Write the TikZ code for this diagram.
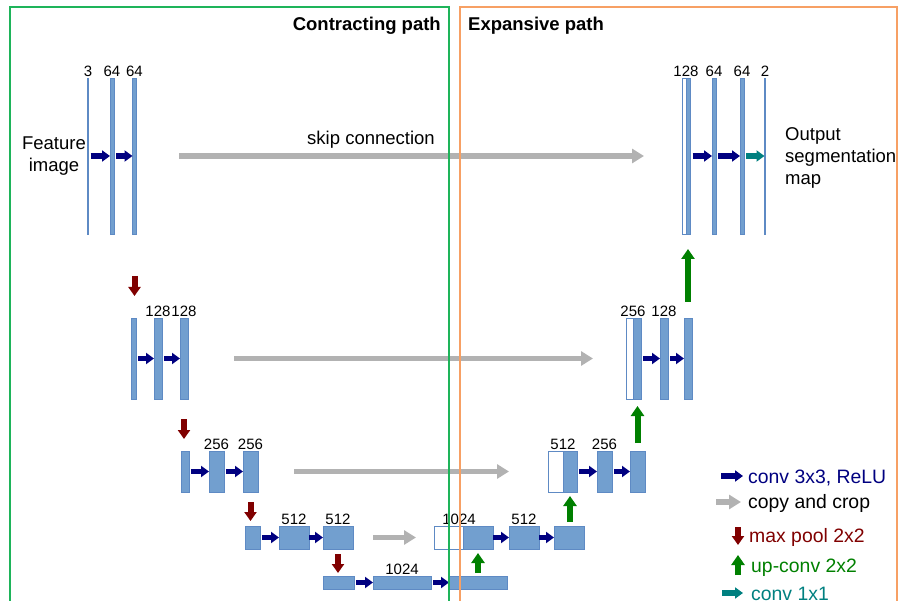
\documentclass[tikz,border=0pt]{standalone}
\usepackage{fontspec}
\setmainfont{Liberation Sans}
\usetikzlibrary{arrows.meta}
\definecolor{barblue}{RGB}{114,159,207}
\definecolor{barline}{RGB}{94,138,196}
\definecolor{convblue}{RGB}{0,0,128}
\definecolor{skipgray}{RGB}{178,178,178}
\definecolor{poolred}{RGB}{128,0,0}
\definecolor{upgreen}{RGB}{0,128,0}
\definecolor{oneteal}{RGB}{0,128,128}
\definecolor{pathgreen}{RGB}{30,180,90}
\definecolor{pathorange}{RGB}{247,160,100}
\begin{document}
\begin{tikzpicture}[x=1pt,y=-1pt,
    bar/.style 2 args={draw=barline,fill=barblue,line width=0.6pt,inner sep=0pt,outer sep=0pt,minimum width=#1pt,minimum height=#2pt},
    wbar/.style 2 args={bar={#1}{#2},fill=white},
    num/.style={anchor=south,inner sep=1.5pt,font=\fontsize{15}{18}\selectfont},
    txt/.style={inner sep=0pt,font=\fontsize{18.5}{22}\selectfont},
    leg/.style={anchor=base west,inner sep=0pt,font=\fontsize{19.4}{23}\selectfont},
    conv/.style={convblue,line width=5.5pt,-{Triangle[length=8pt,width=11pt]},shorten <=2pt},
    one/.style={conv,oneteal},
    skip/.style={skipgray,line width=5.5pt,-{Triangle[length=12pt,width=14pt]}},
    pool/.style={poolred,line width=6pt,-{Triangle[length=9pt,width=12pt]}},
    up/.style={upgreen,line width=6pt,-{Triangle[length=10pt,width=13pt]}}]
  \useasboundingbox (0,0) rectangle (899,601);
  % contracting path
  \node[bar={1}{156}] (L1a) at (88,156) {};
  \node[bar={4}{156}] (L1b) at (112,156) {};
  \node[bar={4}{156}] (L1c) at (134.5,156) {};
  \node[bar={5}{81}] (L2a) at (133.5,358.5) {};
  \node[bar={8}{81}] (L2b) at (158,358.5) {};
  \node[bar={8}{81}] (L2c) at (184,358.5) {};
  \node[bar={8}{41}] (L3a) at (185,471.5) {};
  \node[bar={15}{41}] (L3b) at (216.5,471.5) {};
  \node[bar={15}{41}] (L3c) at (250.5,471.5) {};
  \node[bar={15}{23}] (L4a) at (252.5,537.5) {};
  \node[bar={30}{23}] (L4b) at (294,537.5) {};
  \node[bar={30}{23}] (L4c) at (338,537.5) {};
  \node[bar={31}{13}] (L5a) at (338.5,582.5) {};
  \node[bar={58}{13}] (L5b) at (402,582.5) {};
  \node[bar={58}{13}] (L5c) at (478,582.5) {};
  % expansive path
  \node[wbar={29}{23}] (R4w) at (448.5,537.5) {};
  \node[bar={30}{23}] (R4a) at (478,537.5) {};
  \node[bar={30}{23}] (R4b) at (524,537.5) {};
  \node[bar={30}{23}] (R4c) at (569,537.5) {};
  \node[wbar={15}{41}] (R3w) at (555.5,471.5) {};
  \node[bar={14}{41}] (R3a) at (570,471.5) {};
  \node[bar={15}{41}] (R3b) at (604.5,471.5) {};
  \node[bar={15}{41}] (R3c) at (637.5,471.5) {};
  \node[wbar={7}{81}] (R2w) at (629.5,358.5) {};
  \node[bar={8}{81}] (R2a) at (637,358.5) {};
  \node[bar={8}{81}] (R2b) at (664,358.5) {};
  \node[bar={8}{81}] (R2c) at (688,358.5) {};
  \node[wbar={4}{156}] (R1w) at (684,156) {};
  \node[bar={4}{156}] (R1a) at (688.5,156) {};
  \node[bar={4}{156}] (R1b) at (714,156) {};
  \node[bar={4}{156}] (R1c) at (742,156) {};
  \node[bar={1}{156}] (R1d) at (765,156) {};
  % channel numbers
  \node[num] (n1a) at (L1a.north) {3};
  \node[num] (n1b) at (L1b.north) {64};
  \node[num] (n1c) at (L1c.north) {64};
  \node[num] (n2b) at (L2b.north) {128};
  \node[num] (n2c) at (L2c.north) {128};
  \node[num] (n3b) at (L3b.north) {256};
  \node[num] (n3c) at (L3c.north) {256};
  \node[num] (n4b) at (L4b.north) {512};
  \node[num] (n4c) at (L4c.north) {512};
  \node[num] (n5b) at (L5b.north) {1024};
  \node[num,xshift=-4pt] (m4w) at (R4w.north east) {1024};
  \node[num] (m4b) at (R4b.north) {512};
  \node[num] (m3w) at (R3w.north east) {512};
  \node[num] (m3b) at (R3b.north) {256};
  \node[num] (m2w) at (R2w.north east) {256};
  \node[num] (m2b) at (R2b.north) {128};
  \node[num] (m1w) at (R1w.north east) {128};
  \node[num] (m1b) at (R1b.north) {64};
  \node[num] (m1c) at (R1c.north) {64};
  \node[num] (m1d) at (R1d.north) {2};
  % conv 3x3
  \draw[conv] (L1a.east) -- (L1b.west);
  \draw[conv] (L1b.east) -- (L1c.west);
  \draw[conv] (L2a.east) -- (L2b.west);
  \draw[conv] (L2b.east) -- (L2c.west);
  \draw[conv] (L3a.east) -- (L3b.west);
  \draw[conv] (L3b.east) -- (L3c.west);
  \draw[conv] (L4a.east) -- (L4b.west);
  \draw[conv,shorten <=0pt] (L4b.east) -- (L4c.west);
  \draw[conv] (L5a.east) -- (L5b.west);
  \draw[conv] (L5b.east) -- (L5c.west);
  \draw[conv,shorten <=0pt] (R4a.east) -- (R4b.west);
  \draw[conv,shorten <=0pt] (R4b.east) -- (R4c.west);
  \draw[conv] (R3a.east) -- (R3b.west);
  \draw[conv] (R3b.east) -- (R3c.west);
  \draw[conv] (R2a.east) -- (R2b.west);
  \draw[conv] (R2b.east) -- (R2c.west);
  \draw[conv] (R1a.east) -- (R1b.west);
  \draw[conv] (R1b.east) -- (R1c.west);
  \draw[one] (R1c.east) -- (R1d.west);
  % copy and crop
  \draw[skip,shorten <=42.5pt,shorten >=38pt] (L1c.east) -- (R1w.west);
  \draw[skip,shorten <=46pt,shorten >=33pt] (L2c.east) -- (R2w.west);
  \draw[skip,shorten <=36pt,shorten >=39pt] (L3c.east) -- (R3w.west);
  \draw[skip,shorten <=20pt,shorten >=18pt] (L4c.east) -- (R4w.west);
  % max pool
  \draw[pool,shorten <=42pt,shorten >=22pt] (L1c.south) -- (L1c.south |- L2a.north);
  \draw[pool,shorten <=20pt,shorten >=12pt] (L2c.south) -- (L2c.south |- L3a.north);
  \draw[pool,shorten <=10pt,shorten >=5pt] (L3c.south) -- (L3c.south |- L4a.north);
  \draw[pool,shorten <=5pt,shorten >=3pt] (L4c.south) -- (L4c.south |- L5a.north);
  % up-conv
  \draw[up,shorten <=3pt,shorten >=4pt] (L5c.north) -- (R4a.south);
  \draw[up,shorten <=4pt,shorten >=4pt] (R3a.south |- R4c.north) -- (R3a.south);
  \draw[up,shorten <=8pt,shorten >=7pt] (R3c.north) -- (R3c.north |- R2a.south);
  \draw[up,shorten <=16pt,shorten >=15pt] (R2c.north) -- (R2c.north |- R1a.south);
  % texts
  \node[txt,align=center,anchor=base] (feat) at (54,172) {Feature\\image};
  \node[txt,align=left,anchor=base west] (outp) at (785,185) {Output\\segmentation\\map};
  \node[txt,anchor=base] (skiplbl) at (371,145) {skip connection};
  \node[txt,anchor=base east,font=\fontsize{18.5}{22}\selectfont\bfseries] (contr) at (441,31) {Contracting path};
  \node[txt,anchor=base west,font=\fontsize{18.5}{22}\selectfont\bfseries] (expan) at (468,31) {Expansive path};
  % legend
  \node[leg,convblue] (kconv) at (748,483) {conv 3x3, ReLU};
  \node[leg] (kcopy) at (748,508) {copy and crop};
  \node[leg,poolred] (kpool) at (749,542) {max pool 2x2};
  \node[leg,upgreen] (kup) at (751,572) {up-conv 2x2};
  \node[leg,oneteal] (kone) at (751,600) {conv 1x1};
  \draw[conv,shorten <=0pt] ([shift={(-27pt,7pt)}]kconv.base west) -- ([shift={(-5pt,7pt)}]kconv.base west);
  \draw[skip] ([shift={(-32pt,6pt)}]kcopy.base west) -- ([shift={(-7pt,6pt)}]kcopy.base west);
  \draw[pool] ([shift={(-11pt,15pt)}]kpool.base west) -- ([shift={(-11pt,-3pt)}]kpool.base west);
  \draw[up] ([shift={(-13pt,-3pt)}]kup.base west) -- ([shift={(-13pt,17pt)}]kup.base west);
  \draw[one,shorten <=0pt] ([shift={(-29pt,7pt)}]kone.base west) -- ([shift={(-8pt,7pt)}]kone.base west);
  % paths
  \draw[pathgreen,line width=2pt] (10,7) rectangle (449,620);
  \draw[pathorange,line width=2pt] (460,7) rectangle (897,620);
\end{tikzpicture}
\end{document}
